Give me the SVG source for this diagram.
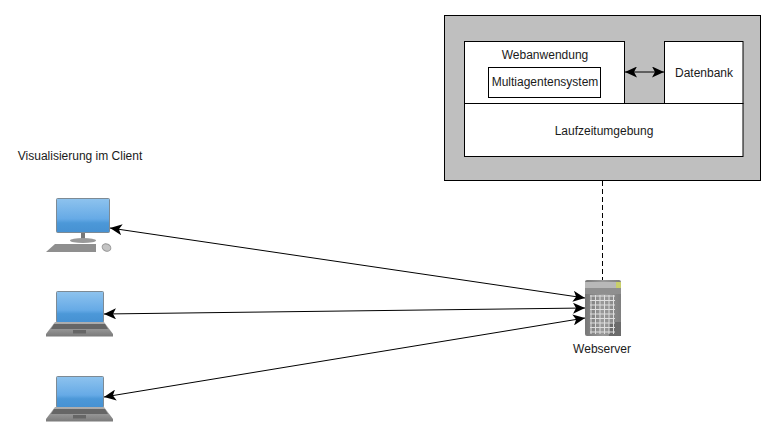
<svg xmlns="http://www.w3.org/2000/svg" xmlns:xlink="http://www.w3.org/1999/xlink" width="776" height="437" viewBox="0 0 776 437">
<style>
text{font-family:"Liberation Sans",Arial,sans-serif;font-size:12px;fill:#1a1a1a;text-anchor:middle}
.box{fill:#fff;stroke:#000;stroke-width:1}
.conn{fill:none;stroke:#000;stroke-width:1}
</style>
<defs>
<marker id="arr" viewBox="0 0 13 11" refX="12" refY="5.500" markerWidth="13" markerHeight="11" markerUnits="userSpaceOnUse" orient="auto-start-reverse"><path d="M0 0L12 5.500L0 11L3 5.500Z" fill="#000"/></marker>
<linearGradient id="scr" x1="0" y1="0" x2="0" y2="1"><stop offset="0" stop-color="#8ec3ee"/><stop offset=".6" stop-color="#66aae6"/><stop offset=".72" stop-color="#4c98d8"/><stop offset="1" stop-color="#4691d2"/></linearGradient>
<linearGradient id="base" x1="0" y1="0" x2="0" y2="1"><stop offset="0" stop-color="#b0b0b0"/><stop offset="1" stop-color="#7a7a7a"/></linearGradient>
<linearGradient id="srv" x1="0" y1="0" x2="1" y2="0"><stop offset="0" stop-color="#777"/><stop offset=".5" stop-color="#9a9a9a"/><stop offset="1" stop-color="#7f7f7f"/></linearGradient>
<g id="laptop">
<rect x="56.500" y="291.500" width="47" height="31" rx="1" fill="url(#scr)" stroke="#7d8a94"/>
<path d="M55 322H104L113 334V336.500H46V334Z" fill="url(#base)"/>
<path d="M54 324H105L108 329H51Z" fill="#666"/>
<rect x="73" y="330" width="13" height="3.500" fill="#666"/>
</g>
</defs>
<g id="runtime-host">
<rect x="444.500" y="15.500" width="316" height="165" fill="#bfbfbf" stroke="#000"/>
</g>
<g id="webanwendung">
<rect class="box" x="464.500" y="41.500" width="160" height="62"/>
<text x="545" y="59">Webanwendung</text>
</g>
<g id="multiagentensystem">
<rect class="box" x="488.500" y="67.500" width="112" height="30"/>
<text x="545" y="86">Multiagentensystem</text>
</g>
<g id="datenbank">
<rect class="box" x="664.500" y="41.500" width="78.500" height="62"/>
<text x="704" y="77">Datenbank</text>
</g>
<g id="laufzeitumgebung">
<rect class="box" x="464.500" y="103.500" width="278.500" height="53"/>
<text x="604" y="135">Laufzeitumgebung</text>
</g>
<g id="label-client">
<text x="80" y="160">Visualisierung im Client</text>
</g>
<g id="desktop">
<rect x="56.500" y="198.500" width="53" height="34" rx="1" fill="url(#scr)" stroke="#7d8a94"/>
<rect x="81" y="233" width="4" height="6" fill="#777"/>
<ellipse cx="83" cy="240.500" rx="13" ry="2.500" fill="#999"/>
<path d="M55 244H96V252H46Z" fill="#8f8f8f"/>
<ellipse cx="106.500" cy="247.500" rx="4.500" ry="3.500" fill="#c4c4c4" stroke="#999" transform="rotate(25 106.500 247.500)"/>
</g>
<g id="laptop-1"><use xlink:href="#laptop" href="#laptop"/></g>
<g id="laptop-2"><use xlink:href="#laptop" href="#laptop" y="85"/></g>
<g id="webserver">
<rect x="585" y="280" width="36" height="56" rx="2" fill="url(#srv)"/>
<rect x="585" y="282" width="36" height="6" fill="#b8b8b8"/>
<rect x="585" y="288" width="36" height="6" fill="#8f8f8f"/>
<rect x="616" y="282" width="5" height="6" fill="#c8cf6a"/>
<rect x="609" y="322" width="12" height="14" fill="#6b6b6b"/>
<path d="M590 296H615M590 300.500H615M590 305H615M590 309.500H615M590 314H615M590 318.500H615M590 323H615M590 327.500H615M590 332H615M591 295V334M595.500 295V334M600 295V334M604.500 295V334M609 295V334M613.500 295V334" stroke="#dedede" fill="none"/>
<text x="602" y="353">Webserver</text>
</g>
<g id="connectors">
<path class="conn" d="M625 72H664" marker-start="url(#arr)" marker-end="url(#arr)"/>
<path class="conn" d="M602.500 181V280" stroke-dasharray="5 3"/>
<path class="conn" d="M110 228L585 298" marker-start="url(#arr)" marker-end="url(#arr)"/>
<path class="conn" d="M104 314L585 308" marker-start="url(#arr)" marker-end="url(#arr)"/>
<path class="conn" d="M104 397L585 318" marker-start="url(#arr)" marker-end="url(#arr)"/>
</g>
</svg>
